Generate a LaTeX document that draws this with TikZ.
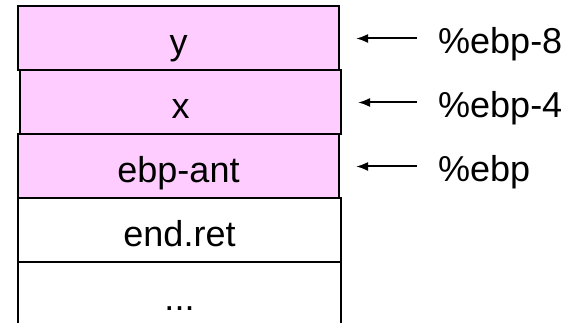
\documentclass[tikz,border=0pt]{standalone}
\usepackage{fontspec}
\setmainfont{Liberation Sans}
\usetikzlibrary{arrows.meta}
\definecolor{slotpink}{RGB}{255,204,255}
\tikzset{
  slot/.style={draw=black, line width=2pt, rectangle, inner sep=0pt,
    minimum height=64pt, text height=32pt, text depth=0pt,
    font=\fontsize{36pt}{42pt}\selectfont},
  local/.style={slot, fill=slotpink},
  frame/.style={slot, fill=white},
  reglabel/.style={anchor=base west, inner sep=0pt,
    font=\fontsize{36pt}{42pt}\selectfont},
  ptr/.style={line width=2pt, -{Latex[length=12pt,width=9pt]},
    shorten <=21pt, shorten >=16pt},
}
\begin{document}
\begin{tikzpicture}[x=1pt, y=-1pt]
  \useasboundingbox (0,0) rectangle (582,323);
  \clip (0,0) rectangle (582,323);
  % stack slots, top of the stack first
  \node[local, minimum width=321pt] (sy)  at (178.5,38.5)  {y};
  \node[local, minimum width=321pt] (sx)  at (180.5,102.5) {x};
  \node[local, minimum width=321pt] (sbp) at (178.5,166.5) {ebp-ant};
  \node[frame, minimum width=323pt] (sret) at (179.5,230.5) {end.ret};
  \node[frame, minimum width=323pt] (smore) at (179.5,294.5) {...};
  % register offsets pointing into the frame
  \node[reglabel] (l8) at (438,54)  {\%ebp-8};
  \node[reglabel] (l4) at (438,118) {\%ebp-4};
  \node[reglabel] (l0) at (438,182) {\%ebp};
  \draw[ptr] (l8.west |- sy.east)  -- (sy.east);
  \draw[ptr] (l4.west |- sx.east)  -- (sx.east);
  \draw[ptr] (l0.west |- sbp.east) -- (sbp.east);
\end{tikzpicture}
\end{document}
